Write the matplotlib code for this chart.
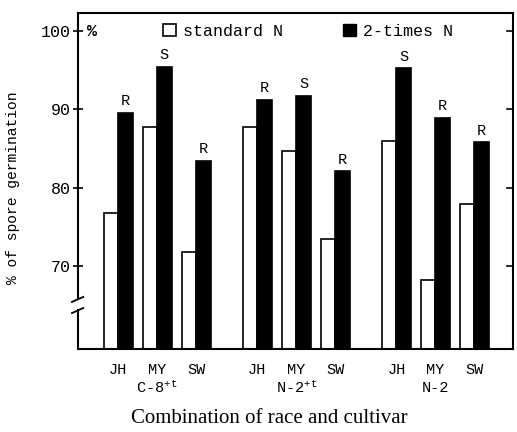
#!/usr/bin/python3
# bar chart of spore germination, standard N vs 2-times N
import numpy as np
import matplotlib
matplotlib.use("Agg")
import matplotlib.pyplot as plt
from matplotlib.patches import Patch

#data
races=["C-8$^{+t}$","N-2$^{+t}$","N-2"]
cultivars=["JH","MY","SW"]
standard_N=[76.8,87.8,71.9, 87.8,84.7,73.5, 85.9,68.3,77.9]
double_N=[89.5,95.4,83.4, 91.2,91.7,82.1, 95.2,88.9,85.8]
reaction=["R","S","R", "R","S","R", "S","R","R"]
yticks=[70,80,90,100]

plt.rcParams['font.family']=['Liberation Mono','DejaVu Sans']
plt.rcParams['mathtext.fontset']='custom'
plt.rcParams['mathtext.rm']='Liberation Mono'
plt.rcParams['mathtext.it']='Liberation Mono'

#pair positions: step 1 inside a group, 3.57 between groups
gstep=3.57
xpos=np.array([g*gstep+i for g in range(len(races)) for i in range(len(cultivars))])
w=0.37

fig=plt.figure(figsize=(5.17,4.32),dpi=100)
ax=fig.add_axes([0.151,0.192,0.841,0.779])

ax.bar(xpos-w/2,standard_N,width=w,color='white',edgecolor='black',linewidth=1.2,zorder=2)
ax.bar(xpos+w/2,double_N,width=w,color='black',edgecolor='black',linewidth=1.2,zorder=2)

#resistance / susceptibility letters
for x,v,t in zip(xpos,double_N,reaction):
	ax.text(x+w/2,v+0.6,t,ha='center',va='bottom',fontsize=11)

ax.set_xlim(-1.03,10.13)
ax.set_ylim(59.5,102.3)

ax.set_yticks(yticks)
ax.tick_params(axis='y',direction='inout',length=7,width=1.2,labelsize=12,pad=2)
ax.set_xticks(xpos)
ax.set_xticklabels(cultivars*len(races),fontsize=11)
ax.tick_params(axis='x',length=0,pad=10)

#right spine ticks pointing inward
for yt in yticks:
	ax.plot([1.0,0.986],[yt,yt],transform=ax.get_yaxis_transform(),color='black',lw=1.2,clip_on=False)

for s in ['top','right','bottom']:
	ax.spines[s].set_linewidth(1.5)
ax.spines['left'].set_visible(False)

#broken left axis
ax.plot([0,0],[0,0.116],transform=ax.transAxes,color='black',lw=1.5,clip_on=False)
ax.plot([0,0],[0.152,1],transform=ax.transAxes,color='black',lw=1.5,clip_on=False)
ax.plot([-0.014,0.012],[0.14,0.155],transform=ax.transAxes,color='black',lw=1.3,clip_on=False)
ax.plot([-0.014,0.012],[0.107,0.122],transform=ax.transAxes,color='black',lw=1.3,clip_on=False)

#group names
trans=ax.get_xaxis_transform()
for g,r in enumerate(races):
	ax.text(g*gstep+1,-0.115,r,transform=trans,ha='center',va='center',fontsize=11)

ax.text(0.02,0.945,"%",transform=ax.transAxes,ha='left',va='center',fontsize=12,fontweight='bold')

ax.set_ylabel("% of spore germination",fontsize=10.5)
ax.yaxis.set_label_coords(-0.133,0.478)
ax.set_xlabel("Combination of race and cultivar",fontsize=15,family='Liberation Serif')
ax.xaxis.set_label_coords(0.44,-0.178)

handles=[Patch(facecolor='white',edgecolor='black',linewidth=1.2),Patch(facecolor='black',edgecolor='black')]
ax.legend(handles,["standard N","2-times N"],loc='center left',bbox_to_anchor=(0.196,0.945),ncol=2,frameon=False,
	fontsize=12,handlelength=0.75,handleheight=0.75,handletextpad=0.45,columnspacing=3.6,borderpad=0,borderaxespad=0)

plt.savefig("out.png",dpi=100)
